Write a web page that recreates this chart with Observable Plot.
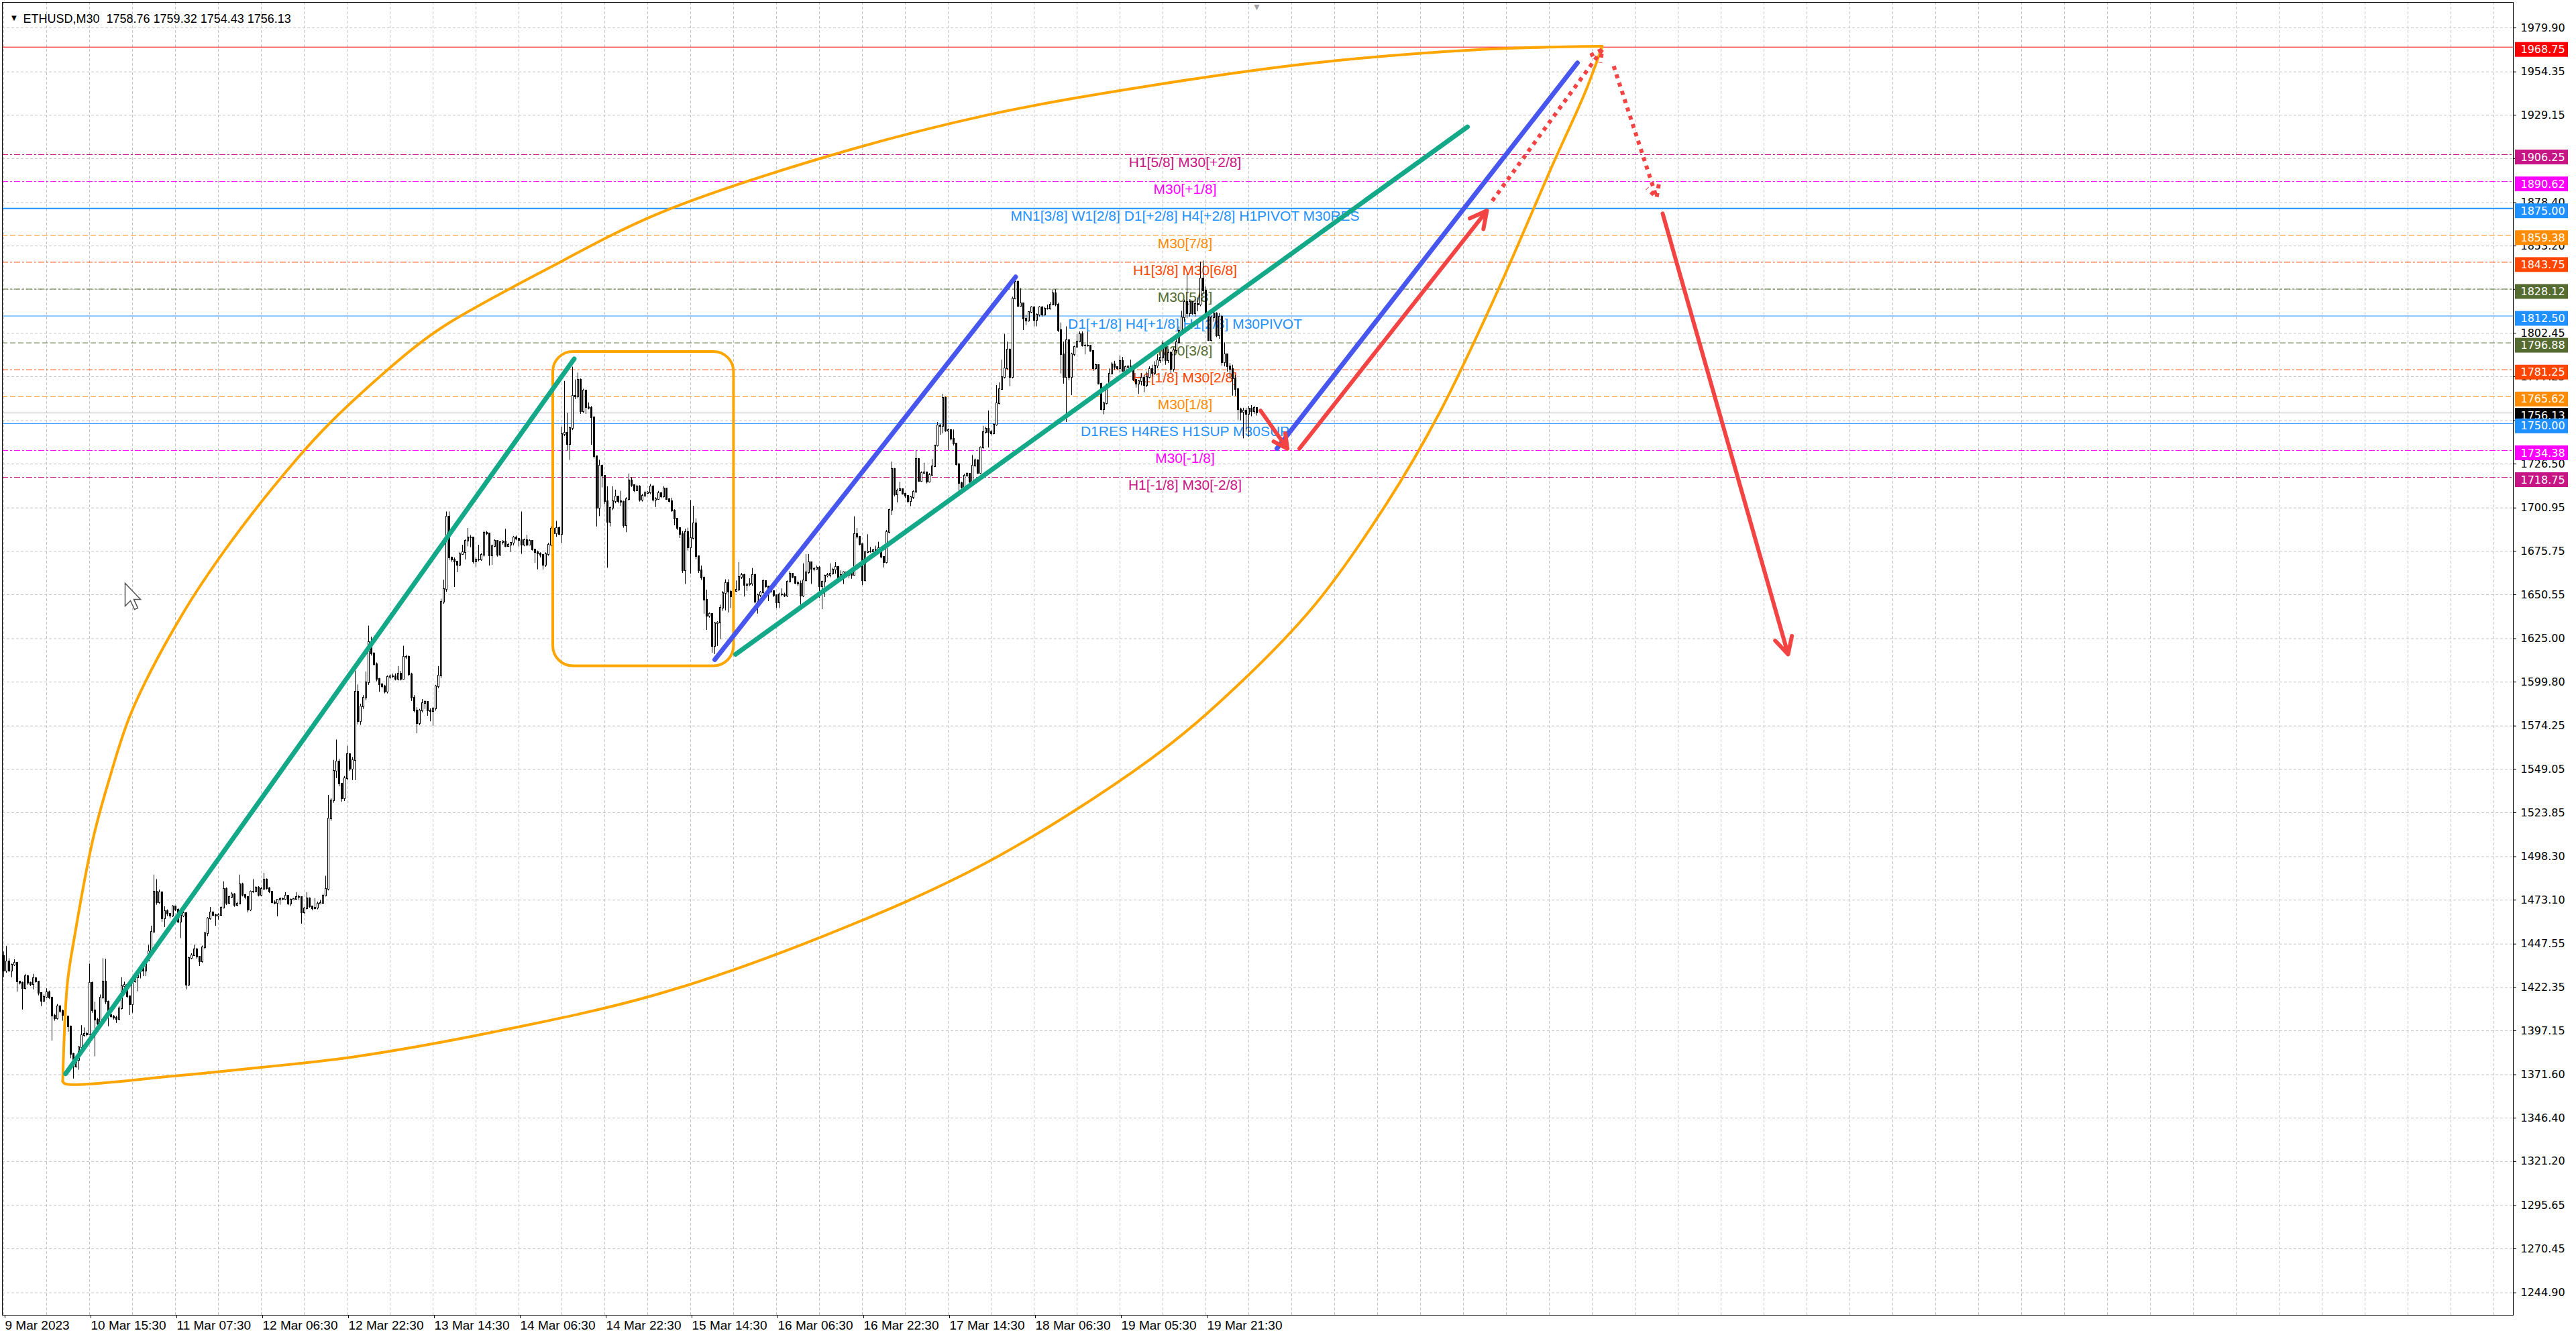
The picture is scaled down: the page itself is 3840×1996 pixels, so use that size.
<!DOCTYPE html>
<html><head><meta charset="utf-8">
<script src="https://cdn.jsdelivr.net/npm/d3@7"></script>
<script src="https://cdn.jsdelivr.net/npm/@observablehq/plot@0.6"></script>
<style>
html,body{margin:0;padding:0;background:#fff;}
#chart{width:3840px;height:1996px;overflow:hidden;}
</style></head><body><div id="chart"></div>
<script>
// ---------- DATA ----------
const headerText = "ETHUSD,M30  1758.76 1759.32 1754.43 1756.13";
const firstOpen = 1440.4;
const closes = [
1432.0,1437.4,1432.0,1435.2,1436.5,1425.5,1424.9,1421.6,1428.7,1424.9,
1423.9,1427.4,1425.8,1419.0,1414.5,1416.7,1419.3,1416.4,1405.7,1404.1,
1411.3,1408.4,1406.1,1405.4,1399.6,1383.4,1376.3,1380.2,1387.3,1394.4,
1395.3,1395.0,1424.9,1408.7,1403.5,1400.9,1416.4,1425.8,1413.8,1406.1,
1405.4,1404.4,1403.7,1410.2,1422.9,1423.6,1417.1,1412.5,1425.5,1428.1,
1431.3,1433.9,1432.0,1437.8,1443.0,1454.3,1478.0,1471.5,1477.3,1462.4,
1466.7,1465.0,1463.7,1469.3,1467.5,1460.2,1463.7,1465.2,1423.6,1439.1,
1441.0,1444.3,1440.0,1437.4,1445.6,1453.6,1462.4,1465.7,1464.4,1464.0,
1464.4,1468.6,1479.6,1471.2,1474.7,1476.4,1470.2,1470.8,1482.2,1476.0,
1474.7,1467.2,1477.9,1478.0,1480.3,1475.8,1479.6,1484.8,1479.9,1477.9,
1471.7,1471.2,1473.2,1473.4,1473.7,1475.4,1470.8,1473.2,1473.6,1474.7,
1474.9,1465.7,1468.0,1474.1,1469.3,1468.2,1468.5,1471.0,1471.4,1475.6,
1479.6,1520.2,1530.8,1547.9,1553.3,1540.5,1532.0,1543.7,1557.6,1549.0,
1554.4,1593.9,1576.8,1585.4,1590.7,1599.3,1622.8,1616.4,1610.0,1601.4,
1598.2,1597.1,1593.9,1602.5,1603.1,1603.1,1601.4,1604.6,1601.4,1614.2,
1614.3,1604.0,1590.7,1583.2,1575.7,1583.2,1587.5,1588.0,1583.2,1582.6,
1584.3,1597.1,1603.5,1646.3,1653.8,1695.9,1672.0,1671.0,1669.8,1667.7,
1674.1,1675.2,1681.6,1683.5,1683.7,1669.8,1670.9,1670.9,1673.7,1686.5,
1686.2,1673.0,1678.8,1681.6,1673.7,1680.9,1681.5,1678.8,1679.5,1680.6,
1683.7,1683.0,1682.2,1679.5,1682.2,1679.5,1681.6,1676.7,1675.2,1674.5,
1673.7,1667.7,1674.1,1679.4,1688.6,1686.0,1689.1,1685.8,1743.6,1744.3,
1738.0,1747.4,1766.1,1765.6,1775.4,1757.0,1769.0,1759.4,1759.1,1753.4,
1730.7,1700.9,1725.4,1719.4,1704.7,1692.7,1700.7,1704.7,1707.4,1704.7,
1704.4,1690.7,1706.0,1716.7,1714.0,1711.1,1713.4,1705.4,1708.0,1709.4,
1709.7,1713.4,1705.4,1706.0,1709.4,1707.4,1712.0,1706.0,1704.7,1699.3,
1694.7,1689.0,1685.7,1664.6,1686.7,1677.7,1683.3,1692.0,1672.6,1664.6,
1660.4,1647.3,1637.9,1639.3,1620.6,1633.9,1634.1,1642.6,1651.3,1657.3,
1652.0,1649.3,1652.6,1653.3,1660.6,1661.7,1656.0,1656.3,1656.6,1662.0,
1646.2,1650.0,1651.6,1658.2,1655.3,1652.6,1652.4,1650.0,1646.0,1650.6,
1650.6,1649.9,1658.0,1662.6,1660.6,1657.3,1656.6,1649.9,1658.6,1663.3,
1669.3,1665.3,1665.5,1666.2,1655.3,1657.9,1661.3,1662.0,1662.6,1665.0,
1666.6,1660.0,1662.0,1663.3,1661.8,1662.5,1662.0,1685.5,1684.0,1679.6,
1658.8,1675.1,1675.3,1675.6,1676.2,1675.9,1677.4,1672.2,1669.2,1686.8,
1699.6,1723.3,1708.5,1711.1,1711.6,1709.2,1707.7,1704.8,1707.0,1710.0,
1729.2,1716.6,1721.1,1721.5,1715.9,1720.0,1725.1,1736.9,1748.8,1748.3,
1764.8,1745.5,1746.0,1741.1,1738.1,1726.3,1715.2,1712.9,1719.6,1720.6,
1715.9,1725.5,1728.5,1721.1,1735.9,1744.8,1747.0,1744.8,1744.0,1749.2,
1761.8,1770.0,1776.7,1781.8,1793.0,1776.7,1822.6,1832.2,1818.2,1819.6,
1810.7,1809.7,1814.5,1817.4,1810.0,1813.0,1817.4,1813.0,1816.7,1816.7,
1818.9,1825.6,1818.9,1804.1,1790.0,1776.7,1798.1,1776.7,1790.0,1794.4,
1797.4,1801.8,1795.2,1795.2,1795.2,1792.2,1781.8,1783.8,1773.0,1758.1,
1761.8,1772.2,1778.9,1784.4,1782.6,1781.8,1786.3,1780.4,1782.6,1782.9,
1782.6,1775.2,1773.0,1774.4,1776.5,1772.0,1777.0,1781.5,1779.0,1783.5,
1786.5,1788.0,1796.5,1786.7,1791.0,1781.5,1792.5,1797.1,1803.6,1811.4,
1820.5,1814.0,1820.5,1814.0,1819.5,1819.0,1834.2,1827.0,1814.0,1798.4,
1811.4,1814.0,1801.0,1812.0,1785.4,1790.0,1783.0,1781.5,1776.0,1770.0,
1758.1,1756.5,1757.5,1755.5,1758.5,1756.8,1758.76,1756.13];
const highs = [
1443.0,1446.2,1439.1,1436.0,1438.5,1437.0,1426.0,1425.5,1430.0,1429.5,
1425.5,1430.0,1428.1,1426.0,1419.3,1418.0,1421.6,1420.3,1416.7,1406.7,
1412.5,1412.0,1409.3,1407.4,1405.4,1400.0,1384.1,1381.0,1388.0,1400.2,
1398.9,1396.5,1436.0,1425.5,1413.8,1404.4,1418.0,1439.1,1438.8,1414.5,
1408.0,1406.1,1405.7,1411.3,1428.1,1425.5,1423.6,1417.5,1427.0,1429.5,
1432.5,1435.2,1434.6,1439.1,1446.9,1457.9,1487.7,1485.1,1479.0,1477.5,
1469.3,1467.5,1465.0,1470.0,1469.5,1468.2,1465.0,1466.5,1465.5,1440.0,
1442.0,1447.0,1445.0,1440.4,1446.5,1454.5,1463.0,1468.9,1466.5,1465.0,
1465.2,1469.3,1483.8,1480.3,1475.5,1477.5,1477.0,1472.0,1487.7,1483.0,
1476.4,1475.0,1478.5,1485.1,1481.0,1481.0,1480.5,1488.8,1485.5,1480.5,
1477.8,1472.7,1473.5,1474.5,1474.3,1477.5,1475.8,1473.8,1474.1,1477.5,
1476.0,1474.5,1469.0,1477.5,1474.5,1469.5,1474.0,1472.0,1473.0,1476.5,
1487.0,1534.0,1532.0,1554.4,1566.2,1555.0,1541.0,1545.0,1562.6,1558.0,
1556.0,1606.7,1598.2,1587.0,1592.0,1605.7,1632.4,1626.0,1617.0,1611.0,
1602.0,1599.0,1598.0,1603.5,1604.0,1604.5,1604.6,1608.9,1606.0,1620.7,
1615.5,1615.0,1605.0,1592.0,1585.0,1584.0,1589.7,1589.0,1588.0,1584.3,
1585.0,1598.0,1608.9,1648.0,1659.1,1698.7,1698.7,1672.5,1672.0,1670.0,
1675.0,1679.4,1682.5,1689.1,1685.0,1684.0,1672.0,1679.4,1674.5,1687.5,
1687.4,1686.3,1679.5,1682.5,1682.0,1681.5,1682.0,1688.6,1680.5,1681.0,
1684.5,1684.7,1683.0,1698.7,1683.0,1685.2,1682.5,1681.0,1677.0,1676.0,
1675.0,1674.0,1675.0,1680.5,1690.0,1689.5,1693.3,1690.0,1748.0,1774.6,
1756.0,1748.0,1782.8,1775.4,1779.4,1776.0,1770.0,1769.5,1762.1,1760.0,
1754.0,1731.0,1728.7,1726.0,1720.0,1713.4,1701.5,1713.4,1711.4,1707.5,
1710.7,1705.0,1707.0,1720.7,1718.7,1714.5,1714.2,1714.0,1709.0,1710.7,
1710.5,1714.7,1714.0,1707.0,1710.7,1710.0,1713.4,1712.5,1706.5,1706.7,
1700.0,1695.0,1689.5,1687.3,1688.7,1689.3,1705.4,1702.0,1694.7,1673.0,
1667.3,1661.0,1653.3,1640.0,1639.0,1634.5,1635.0,1644.6,1652.5,1659.3,
1659.3,1653.0,1653.5,1658.6,1669.3,1663.0,1662.5,1657.0,1659.9,1665.9,
1662.6,1651.0,1652.5,1659.3,1658.5,1655.5,1653.5,1652.5,1650.5,1651.5,
1654.0,1651.5,1658.6,1664.0,1663.0,1660.7,1658.5,1658.6,1668.6,1674.0,
1674.0,1669.5,1666.5,1667.3,1667.0,1658.5,1662.0,1663.0,1668.6,1666.0,
1669.3,1667.0,1664.5,1664.0,1663.0,1663.5,1663.0,1695.9,1689.1,1684.5,
1680.0,1676.0,1685.5,1678.1,1677.0,1678.8,1681.1,1678.0,1672.7,1688.0,
1700.3,1727.7,1724.0,1712.0,1715.9,1712.0,1709.5,1708.0,1707.8,1711.0,
1734.4,1729.5,1722.0,1727.0,1721.7,1721.0,1729.2,1737.5,1750.7,1749.5,
1767.0,1765.5,1747.0,1745.5,1746.3,1738.5,1727.0,1716.0,1720.5,1721.5,
1721.0,1731.5,1729.5,1729.0,1736.5,1748.5,1748.0,1757.4,1746.0,1750.0,
1772.2,1773.7,1787.0,1801.9,1797.4,1793.5,1823.5,1834.5,1833.0,1828.5,
1820.0,1813.0,1815.0,1818.0,1818.0,1813.8,1818.0,1818.0,1817.5,1818.9,
1820.4,1827.8,1827.8,1820.0,1808.5,1797.4,1806.3,1798.5,1791.0,1795.0,
1801.9,1803.3,1803.3,1796.0,1803.3,1795.5,1792.5,1784.5,1784.0,1773.5,
1762.5,1773.0,1781.8,1785.5,1786.3,1783.0,1789.3,1788.5,1783.5,1783.5,
1787.0,1782.5,1775.5,1775.0,1779.0,1778.0,1780.0,1783.0,1784.0,1786.0,
1790.0,1792.0,1798.0,1797.0,1793.0,1792.0,1794.0,1799.0,1806.2,1815.3,
1821.8,1836.7,1822.0,1821.0,1822.0,1823.0,1843.9,1844.5,1829.5,1815.0,
1812.5,1816.5,1814.5,1814.0,1813.0,1797.0,1790.5,1785.0,1784.0,1778.0,
1770.5,1759.0,1759.0,1759.0,1760.0,1760.5,1760.0,1759.32];
const lows = [
1428.1,1430.7,1431.3,1428.1,1434.6,1419.7,1423.9,1409.3,1421.0,1423.6,
1422.9,1421.0,1424.9,1417.5,1411.3,1413.8,1416.0,1415.4,1391.2,1402.8,
1403.5,1407.4,1402.8,1403.7,1396.4,1381.0,1369.2,1375.6,1374.3,1386.5,
1393.5,1393.8,1394.7,1407.4,1382.1,1399.6,1400.2,1415.4,1412.5,1399.6,
1404.4,1403.5,1401.5,1403.0,1409.3,1420.3,1416.0,1406.1,1407.4,1424.9,
1419.9,1427.4,1428.7,1428.7,1437.4,1443.0,1454.0,1470.2,1470.8,1460.2,
1457.2,1463.7,1462.4,1463.0,1466.5,1459.5,1450.8,1463.0,1421.0,1423.0,
1438.5,1440.4,1438.8,1434.6,1436.5,1444.3,1452.0,1461.5,1463.5,1457.9,
1461.5,1463.7,1468.0,1470.0,1470.5,1474.1,1469.0,1469.3,1470.5,1475.0,
1473.4,1465.7,1466.5,1477.0,1477.5,1475.0,1475.2,1479.0,1479.0,1477.0,
1471.0,1470.5,1463.5,1470.2,1472.9,1473.4,1470.0,1469.5,1472.8,1473.2,
1473.2,1459.2,1465.0,1467.5,1468.5,1467.0,1467.5,1467.5,1470.5,1470.8,
1475.0,1478.5,1519.0,1529.5,1543.7,1539.0,1530.0,1530.5,1542.5,1548.0,
1542.6,1542.6,1575.0,1574.7,1584.0,1589.0,1598.0,1615.0,1609.0,1600.0,
1593.9,1596.0,1593.0,1593.0,1601.5,1602.0,1600.5,1600.5,1600.5,1601.5,
1613.0,1603.0,1588.6,1582.0,1569.8,1574.5,1582.0,1584.0,1580.0,1576.8,
1574.2,1583.0,1596.0,1602.0,1645.0,1652.0,1670.5,1669.5,1654.8,1663.4,
1667.0,1673.5,1670.9,1678.5,1677.9,1668.5,1666.6,1669.8,1670.0,1672.5,
1685.0,1667.3,1667.7,1678.0,1672.5,1673.0,1679.5,1678.0,1678.5,1675.2,
1679.0,1682.0,1678.4,1674.1,1678.5,1678.5,1679.0,1676.0,1668.8,1665.1,
1672.0,1665.0,1666.5,1673.0,1678.5,1684.5,1684.0,1685.0,1680.5,1742.5,
1734.1,1728.7,1746.0,1764.0,1764.5,1755.4,1756.0,1755.4,1758.0,1737.4,
1729.5,1690.0,1696.0,1712.7,1703.0,1666.0,1690.0,1699.5,1703.5,1703.5,
1702.0,1689.3,1686.7,1705.0,1713.0,1710.0,1710.8,1704.5,1704.5,1707.5,
1708.8,1708.8,1704.5,1701.3,1706.0,1706.5,1706.8,1705.4,1704.0,1698.5,
1690.7,1688.0,1683.3,1663.0,1656.6,1676.0,1662.6,1682.5,1671.0,1663.0,
1659.0,1639.3,1629.9,1637.0,1616.6,1615.9,1620.6,1624.6,1641.0,1641.3,
1640.0,1642.6,1648.5,1652.0,1652.5,1659.5,1649.3,1652.6,1655.5,1655.5,
1645.3,1639.3,1649.0,1651.0,1654.5,1646.6,1651.5,1649.0,1642.6,1642.6,
1649.5,1649.0,1649.0,1657.5,1660.0,1656.5,1655.5,1644.6,1649.0,1658.0,
1662.5,1656.6,1664.0,1665.0,1648.6,1641.9,1649.0,1660.5,1660.5,1662.0,
1662.5,1659.0,1659.5,1656.6,1660.3,1660.0,1659.6,1662.0,1683.0,1679.0,
1655.9,1658.0,1674.5,1674.8,1675.0,1675.0,1675.5,1671.5,1666.2,1668.5,
1686.0,1696.6,1707.5,1704.0,1710.5,1708.5,1706.5,1703.5,1701.8,1706.0,
1709.5,1716.0,1716.0,1720.5,1715.0,1715.5,1719.5,1724.5,1736.5,1743.3,
1744.1,1745.0,1734.4,1740.0,1737.0,1725.5,1707.7,1712.0,1712.0,1719.0,
1715.0,1715.5,1724.5,1720.5,1720.5,1735.0,1744.0,1735.9,1743.0,1743.5,
1748.5,1761.0,1769.5,1776.0,1781.0,1771.5,1776.0,1822.0,1817.5,1818.0,
1804.1,1807.0,1809.0,1814.0,1806.3,1806.3,1812.0,1812.0,1812.5,1816.0,
1816.0,1818.5,1818.0,1803.0,1778.9,1773.0,1750.7,1775.0,1766.3,1789.0,
1794.0,1797.0,1794.5,1790.0,1794.5,1791.5,1780.4,1781.0,1772.5,1757.5,
1755.2,1761.0,1772.0,1781.0,1781.0,1781.0,1779.5,1780.0,1780.0,1782.0,
1782.0,1774.5,1770.7,1767.0,1772.0,1768.0,1771.0,1776.0,1777.0,1778.0,
1782.0,1785.0,1786.0,1784.0,1785.0,1779.0,1780.0,1791.0,1796.0,1801.0,
1809.0,1811.0,1812.0,1813.0,1812.0,1815.0,1818.0,1825.0,1812.0,1797.8,
1797.5,1809.0,1800.0,1799.0,1783.5,1783.0,1780.0,1776.0,1766.0,1765.9,
1752.0,1751.6,1741.2,1745.0,1742.0,1754.0,1755.5,1754.43];

const timeLabels = ["9 Mar 2023","10 Mar 15:30","11 Mar 07:30","12 Mar 06:30","12 Mar 22:30","13 Mar 14:30","14 Mar 06:30","14 Mar 22:30","15 Mar 14:30","16 Mar 06:30","16 Mar 22:30","17 Mar 14:30","18 Mar 06:30","19 Mar 05:30","19 Mar 21:30"];
const timeLabelBars = [0,32,64,96,128,160,192,224,256,288,320,352,384,416,448];
const gridBars = d3.range(0, 936, 16);
const priceTicks = [1979.90,1954.35,1929.15,1903.95,1878.40,1853.20,1828.00,1802.45,1777.25,1751.70,1726.50,1700.95,1675.75,1650.55,1625.00,1599.80,1574.25,1549.05,1523.85,1498.30,1473.10,1447.55,1422.35,1397.15,1371.60,1346.40,1321.20,1295.65,1270.45,1244.90];

const levelPrices = [1968.75,1906.25,1890.62,1875.00,1859.38,1843.75,1828.12,1812.50,1796.88,1781.25,1765.62,1750.00,1734.38,1718.75];
const levelColors = ["#ff0000","#c71585","#ff00ff","#1e90ff","#ff8c00","#ff4500","#556b2f","#1e90ff","#556b2f","#ff4500","#ff8c00","#1e90ff","#ff00ff","#c71585"];
const levelStyles = ["solid","dashdot","dashdot","solid","dash","dashdot","dashdot","solid","dash","dashdot","dash","solid","dashdot","dashdot"];
const levelWidths = [1,1,1,2,1,1,1,1,1,1,1,1,1,1];
const levelTexts = ["","H1[5/8] M30[+2/8]","M30[+1/8]","MN1[3/8] W1[2/8] D1[+2/8] H4[+2/8] H1PIVOT M30RES","M30[7/8]","H1[3/8] M30[6/8]","M30[5/8]","D1[+1/8] H4[+1/8] H1[2/8] M30PIVOT","M30[3/8]","H1[1/8] M30[2/8]","M30[1/8]","D1RES H4RES H1SUP M30SUP","M30[-1/8]","H1[-1/8] M30[-2/8]"];
const levelLabelBar = 440.25;
const currentPrice = 1756.13;
const lastBar = 467;
const cursorAt = [45.25, 1657.2];

// drawn objects (bar index, price)
const greenLine1 = [[23.1,1372.2],[212.6,1787.6]];
const greenLine2 = [[272.75,1615.9],[545.5,1922.4]];
const blueLine1 = [[265,1612.8],[377.1,1835.2]];
const blueLine2 = [[474.5,1735.5],[586.5,1959.6]];
const redArrows = [
  {x1:468.4,y1:1757.5,x2:478.4,y2:1735.4,dotted:false},
  {x1:482.9,y1:1735.5,x2:552.75,y2:1873.7,dotted:false},
  {x1:554.75,y1:1879.4,x2:595.75,y2:1967.3,dotted:true},
  {x1:600,y1:1957.7,x2:616,y2:1881.3,dotted:true},
  {x1:618.25,y1:1872.0,x2:665,y2:1615.9,dotted:false}
];
const boxBars = [204.75,272.1];
const boxPrices = [1609.0,1791.7];
const arcUpper = [[22.0,1367.7],[23.7,1424.1],[26.2,1450.1],[33.3,1508.7],[39.2,1542.5],[47.7,1582.6],[66.1,1637.9],[84.5,1680.9],[108.8,1728.6],[122.1,1751.1],[143.7,1782.1],[155.4,1797.1],[166.3,1808.8],[200.8,1838.4],[243.7,1871.8],[304.9,1904.3],[366.1,1929.1],[427.3,1946.3],[488.6,1959.6],[549.8,1967.3],[595.7,1969.2]];
const arcLower = [[22.0,1367.7],[22.9,1366.3],[63.8,1370.9],[96.1,1375.9],[128.7,1381.6],[182.4,1396.4],[243.7,1418.4],[304.9,1451.8],[366.1,1494.7],[427.3,1554.9],[457.9,1595.0],[488.6,1644.6],[515.5,1703.8],[535.1,1756.3],[555.9,1824.1],[577.3,1900.5],[589.6,1943.4],[595.7,1969.2]];

// ---------- BUILD ----------
const bars = closes.map((c, i) => {
  const o = i === 0 ? firstOpen : closes[i - 1];
  return {i, o, c, h: Math.max(highs[i], o, c), l: Math.min(lows[i], o, c)};
});
const dashOf = s => s === "dash" ? "8,4" : s === "dashdot" ? "9,3,3,3" : null;
const levels = levelPrices.map((p, k) => ({price: p, color: levelColors[k], style: levelStyles[k], width: levelWidths[k], text: levelTexts[k]}));
const pts = arr => arr.map(([x, y]) => ({x, y}));
const xMax = 935.25;
const cursorSymbol = {draw(ctx) {
  ctx.moveTo(0, 0); ctx.lineTo(0, 34); ctx.lineTo(8, 26); ctx.lineTo(14, 39);
  ctx.lineTo(19, 37); ctx.lineTo(13, 24); ctx.lineTo(23, 24); ctx.closePath();
}};

const marks = [];
// grid
marks.push(Plot.ruleX(gridBars, {stroke: "#c4c4c4", strokeDasharray: "4,3"}));
marks.push(Plot.ruleY(priceTicks, {stroke: "#c4c4c4", strokeDasharray: "4,3"}));
// level lines
for (const l of levels) {
  const opt = {stroke: l.color, strokeWidth: l.width};
  const d = dashOf(l.style); if (d) opt.strokeDasharray = d;
  marks.push(Plot.ruleY([l.price], opt));
}
marks.push(Plot.ruleY([currentPrice], {stroke: "#b8b8b8"}));
// level texts
marks.push(Plot.text(levels.filter(l => l.text), {x: () => levelLabelBar, y: "price", text: "text", fill: "color", dy: 12, fontSize: 21, fontFamily: "Liberation Sans, Arial, sans-serif"}));
// candles
marks.push(Plot.ruleX(bars, {x: "i", y1: "l", y2: "h", stroke: "#000"}));
marks.push(Plot.rect(bars, {x1: d => d.i - 0.25, x2: d => d.i + 0.25, y1: "o", y2: "c", insetTop: -0.5, insetBottom: -0.5, fill: d => d.c >= d.o ? "#fff" : "#000", stroke: "#000", strokeWidth: 1, shapeRendering: "crispEdges"}));
// drawn objects
marks.push(Plot.line(pts(arcUpper), {x: "x", y: "y", stroke: "#ffa500", strokeWidth: 4, curve: "catmull-rom"}));
marks.push(Plot.line(pts(arcLower), {x: "x", y: "y", stroke: "#ffa500", strokeWidth: 4, curve: "catmull-rom"}));
marks.push(Plot.rect([{x1: boxBars[0], x2: boxBars[1], y1: boxPrices[0], y2: boxPrices[1]}], {x1: "x1", x2: "x2", y1: "y1", y2: "y2", fill: "none", stroke: "#ffa500", strokeWidth: 4, rx: 30}));
for (const ln of [greenLine1, greenLine2]) marks.push(Plot.line(pts(ln), {x: "x", y: "y", stroke: "#13a887", strokeWidth: 7, strokeLinecap: "round"}));
for (const ln of [blueLine1, blueLine2]) marks.push(Plot.line(pts(ln), {x: "x", y: "y", stroke: "#4656ee", strokeWidth: 7, strokeLinecap: "round"}));
marks.push(Plot.arrow(redArrows.filter(a => !a.dotted), {x1: "x1", y1: "y1", x2: "x2", y2: "y2", stroke: "#f44343", strokeWidth: 6, headLength: 7, headAngle: 55}));
marks.push(Plot.arrow(redArrows.filter(a => a.dotted), {x1: "x1", y1: "y1", x2: "x2", y2: "y2", stroke: "#f44343", strokeWidth: 6, headLength: 5, headAngle: 55, strokeDasharray: "6,7", strokeLinecap: "butt"}));
// mouse pointer
marks.push(Plot.dot([{x: cursorAt[0], y: cursorAt[1]}], {x: "x", y: "y", symbol: cursorSymbol, fill: "#fff", stroke: "#555", strokeWidth: 1.5}));
// frame & axes
marks.push(Plot.frame({stroke: "#000"}));
marks.push(Plot.axisY(priceTicks, {anchor: "right", tickSize: 4, tickPadding: 7, tickFormat: d => d.toFixed(2), fontSize: 16, fontFamily: "DejaVu Sans, Verdana, sans-serif", fill: "#000", label: null}));
marks.push(Plot.axisX(timeLabelBars, {anchor: "bottom", tickSize: 5, tickPadding: 3, tickFormat: d => timeLabels[timeLabelBars.indexOf(d)], textAnchor: "start", dx: 2, fontSize: 19, fontFamily: "Liberation Sans, Arial, sans-serif", fill: "#000", label: null}));
// right price boxes
marks.push(Plot.rect([{p: currentPrice}], {x1: () => xMax, x2: () => xMax, y1: "p", y2: "p", insetLeft: 3, insetRight: -82, insetTop: -7, insetBottom: -15, fill: "#000"}));
marks.push(Plot.text([{p: currentPrice}], {x: () => xMax, y: "p", text: d => d.p.toFixed(2), dx: 11, dy: 4, fill: "#fff", textAnchor: "start", fontSize: 16, fontFamily: "DejaVu Sans, Verdana, sans-serif"}));
marks.push(Plot.rect(levels, {x1: () => xMax, x2: () => xMax, y1: "price", y2: "price", insetLeft: 3, insetRight: -82, insetTop: -7, insetBottom: -15, fill: "color"}));
marks.push(Plot.text(levels, {x: () => xMax, y: "price", text: d => d.price.toFixed(2), dx: 11, dy: 4, fill: "#fff", textAnchor: "start", fontSize: 16, fontFamily: "DejaVu Sans, Verdana, sans-serif"}));
// header & shift marker
marks.push(Plot.text(["\u25BC"], {frameAnchor: "top-left", dx: 11, dy: 18, fontSize: 13, fill: "#000"}));
marks.push(Plot.text([headerText], {frameAnchor: "top-left", dx: 31, dy: 18, textAnchor: "start", fontSize: 18, fill: "#000", fontFamily: "Liberation Sans, Arial, sans-serif"}));
marks.push(Plot.text([lastBar], {x: d => d, frameAnchor: "top", dy: 2, text: () => "\u25BC", fontSize: 14, fill: "#a0a0a0"}));

const chart = Plot.plot({
  width: 3840, height: 1996,
  marginLeft: 3, marginRight: 94, marginTop: 3, marginBottom: 36,
  x: {type: "linear", domain: [-0.5, xMax], axis: null},
  y: {type: "linear", domain: [1231.88, 1994.75], axis: null},
  style: {background: "#fff", fontFamily: "Liberation Sans, Arial, sans-serif", overflow: "visible"},
  marks
});
document.getElementById("chart").appendChild(chart);
</script>
</body></html>
